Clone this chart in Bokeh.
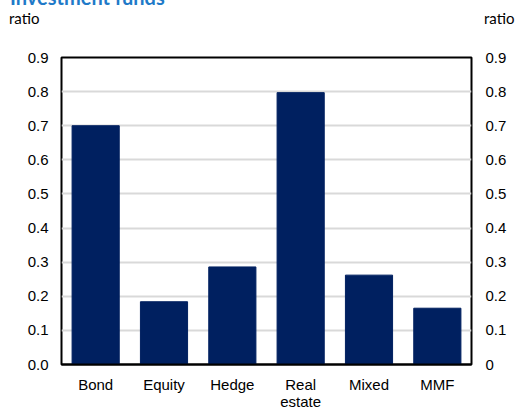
from bokeh.plotting import figure
from bokeh.models import (Range1d, LinearAxis, FixedTicker, NumeralTickFormatter, Div)
from bokeh.layouts import column
from bokeh.embed import file_html
from bokeh.resources import INLINE

categories = ["Bond", "Equity", "Hedge", "Real\nestate", "Mixed", "MMF"]
values = [0.70, 0.184, 0.286, 0.797, 0.262, 0.165]
y_ticks = [0.0, 0.1, 0.2, 0.3, 0.4, 0.5, 0.6, 0.7, 0.8, 0.9]
title_text = "Investment funds"
unit_label = "ratio"

W = 518
HEAD = 44
H = 412 - HEAD

header = Div(
    text=(
        '<div style="position:relative;width:%dpx;height:%dpx;overflow:hidden;">'
        '<span style="position:absolute;left:10px;top:-13px;font-family:Lato;font-weight:bold;'
        'font-size:20px;line-height:20px;color:#1f7ac8;white-space:nowrap;">%s</span>'
        '<span style="position:absolute;left:9px;top:11px;font-family:Lato;font-size:15px;'
        'line-height:15px;color:#000;">%s</span>'
        '<span style="position:absolute;left:484px;top:11px;font-family:Lato;font-size:15px;'
        'line-height:15px;color:#000;">%s</span>'
        '</div>' % (W, HEAD, title_text, unit_label, unit_label)
    ),
    width=W, height=HEAD, margin=(0, 0, 0, 0),
)

p = figure(x_range=categories, y_range=Range1d(0, 0.9), width=W, height=H,
           output_backend="svg", toolbar_location=None, margin=(0, 0, 0, 0),
           min_border_left=61, min_border_right=47, min_border_top=13, min_border_bottom=45)

p.vbar(x=categories, top=values, width=0.69, color="#002060")

p.outline_line_color = "black"
p.outline_line_width = 2
p.background_fill_color = "white"
p.border_fill_color = "white"

p.xgrid.grid_line_color = None
p.ygrid.grid_line_color = "#d9d9d9"
p.ygrid.grid_line_width = 2
p.ygrid.ticker = FixedTicker(ticks=y_ticks)

def style_y(ax, standoff):
    ax.axis_line_color = None
    ax.major_tick_line_color = None
    ax.minor_tick_line_color = None
    ax.major_tick_out = 0
    ax.major_tick_in = 0
    ax.minor_tick_out = 0
    ax.minor_tick_in = 0
    ax.major_label_standoff = standoff
    ax.major_label_text_font = "Liberation Sans"
    ax.major_label_text_font_size = "15px"
    ax.major_label_text_color = "#000000"

ya = p.yaxis[0]
ya.ticker = FixedTicker(ticks=y_ticks)
ya.formatter = NumeralTickFormatter(format="0.0")
style_y(ya, 13)

ra = LinearAxis(ticker=FixedTicker(ticks=y_ticks), formatter=NumeralTickFormatter(format="0.0"))
ra.major_label_overrides = {0: "0"}
style_y(ra, 14)
p.add_layout(ra, "right")

xa = p.xaxis[0]
xa.axis_line_color = "black"
xa.axis_line_width = 2
xa.major_tick_line_color = None
xa.minor_tick_line_color = None
xa.major_tick_out = 0
xa.major_tick_in = 0
xa.major_label_standoff = 11
xa.major_label_text_font = "Liberation Sans"
xa.major_label_text_font_size = "15px"
xa.major_label_text_line_height = 1.0
xa.major_label_text_color = "#000000"

layout = column(header, p, spacing=0, margin=(0, 0, 0, 0))
open("out.html", "w").write(file_html(layout, INLINE))
